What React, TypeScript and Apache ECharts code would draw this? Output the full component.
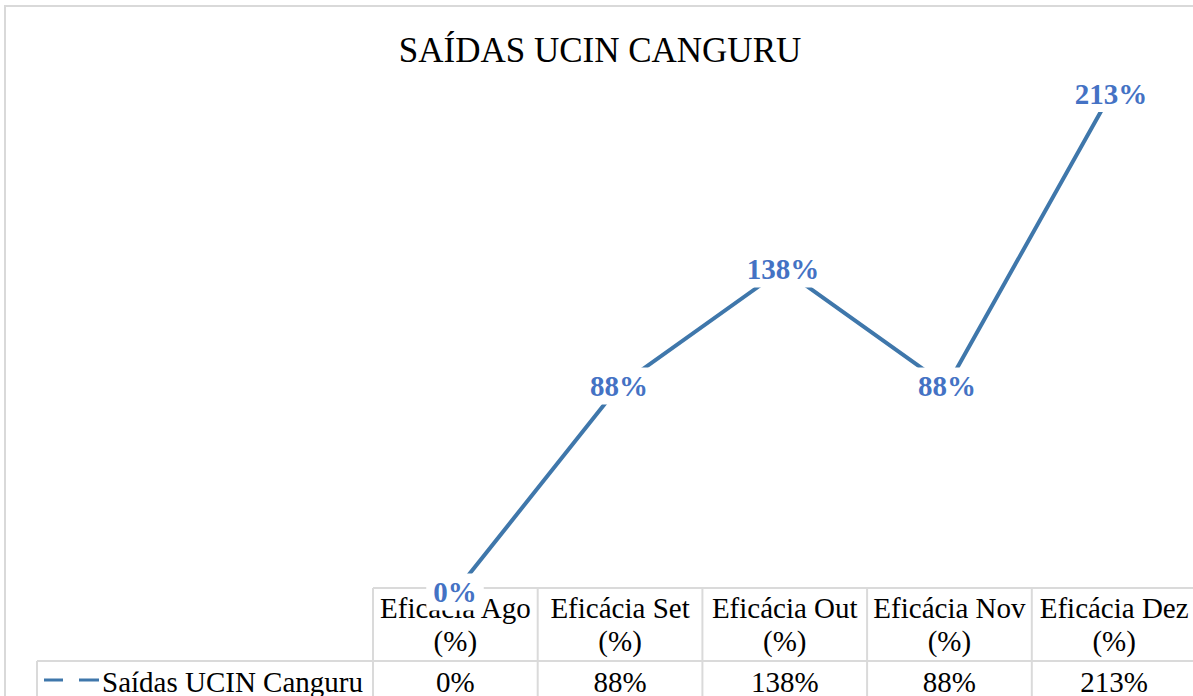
import React, { useEffect, useRef } from "react";
import * as echarts from "echarts";

const title = "SAÍDAS UCIN CANGURU";
const seriesName = "Saídas UCIN Canguru";
const categories = ["Eficácia Ago", "Eficácia Set", "Eficácia Out", "Eficácia Nov", "Eficácia Dez"];
const categorySuffix = "(%)";
const values = [0, 88, 138, 88, 213];

const FONT = "'Liberation Serif', 'Times New Roman', serif";
const LINE_COLOR = "#3F77AB";
const LABEL_COLOR = "#4472C4";
const GRID_COLOR = "#DADADA";

export default function App() {
  const ref = useRef<HTMLDivElement>(null);

  useEffect(() => {
    if (!ref.current) return;
    const chart = echarts.init(ref.current, undefined, { renderer: "svg" });

    const gridLeft = 373;
    const colW = 164.7;
    const gridTop = 7;
    const gridHeight = 585;
    const tableTop = 588;
    const rowLine = 661;
    const legendLeft = 37;
    const W = 1193;
    const H = 696;

    const graphics: any[] = [];
    // chart border
    graphics.push({
      type: "rect",
      z: -10,
      shape: { x: 5, y: 6, width: 1220, height: 720 },
      style: { fill: "none", stroke: "#D9D9D9", lineWidth: 2 },
      silent: true,
    });
    // table horizontal lines
    graphics.push({
      type: "line",
      z: -5,
      shape: { x1: gridLeft, y1: tableTop, x2: W, y2: tableTop },
      style: { stroke: GRID_COLOR, lineWidth: 2 },
    });
    graphics.push({
      type: "line",
      z: -5,
      shape: { x1: legendLeft, y1: rowLine, x2: W, y2: rowLine },
      style: { stroke: GRID_COLOR, lineWidth: 2 },
    });
    graphics.push({
      type: "line",
      z: -5,
      shape: { x1: legendLeft, y1: rowLine, x2: legendLeft, y2: H },
      style: { stroke: GRID_COLOR, lineWidth: 2 },
    });
    for (let i = 0; i <= categories.length; i++) {
      const x = gridLeft + i * colW;
      graphics.push({
        type: "line",
        z: -5,
        shape: { x1: x, y1: tableTop, x2: x, y2: H },
        style: { stroke: GRID_COLOR, lineWidth: 2 },
      });
    }
    categories.forEach((c, i) => {
      const cx = gridLeft + (i + 0.5) * colW;
      graphics.push({
        type: "text",
        z: -4,
        x: cx,
        y: 608,
        style: { text: c, font: `29px ${FONT}`, fill: "#000", align: "center", verticalAlign: "middle" },
      });
      graphics.push({
        type: "text",
        z: -4,
        x: cx,
        y: 641,
        style: { text: categorySuffix, font: `29px ${FONT}`, fill: "#000", align: "center", verticalAlign: "middle" },
      });
      graphics.push({
        type: "text",
        z: -4,
        x: cx,
        y: 682,
        style: { text: `${values[i]}%`, font: `29px ${FONT}`, fill: "#000", align: "center", verticalAlign: "middle" },
      });
    });
    // legend key
    graphics.push({
      type: "line",
      shape: { x1: 44, y1: 680, x2: 63, y2: 680 },
      style: { stroke: LINE_COLOR, lineWidth: 3 },
    });
    graphics.push({
      type: "line",
      shape: { x1: 79, y1: 680, x2: 99, y2: 680 },
      style: { stroke: LINE_COLOR, lineWidth: 3 },
    });
    graphics.push({
      type: "text",
      x: 102,
      y: 682,
      style: { text: seriesName, font: `29px ${FONT}`, fill: "#000", align: "left", verticalAlign: "middle" },
    });

    chart.setOption({
      animation: false,
      backgroundColor: "#fff",
      title: {
        text: title,
        left: 595,
        top: 28,
        textAlign: "center",
        textStyle: { fontFamily: FONT, fontSize: 35, fontWeight: "normal", color: "#000" },
      },
      grid: { left: gridLeft, top: gridTop, width: colW * categories.length, height: gridHeight },
      xAxis: {
        type: "category",
        data: categories.map((c) => `${c} ${categorySuffix}`),
        show: false,
        boundaryGap: true,
      },
      yAxis: { type: "value", min: 0, max: 250, show: false },
      graphic: graphics,
      series: [
        {
          name: seriesName,
          type: "line",
          data: values,
          symbol: "circle",
          symbolSize: 1,
          showSymbol: true,
          itemStyle: { color: "rgba(0,0,0,0)" },
          lineStyle: { color: LINE_COLOR, width: 4 },
          clip: false,
          z: 5,
          label: {
            show: true,
            position: "inside",
            formatter: (p: any) => `${p.value}%`,
            fontFamily: FONT,
            fontSize: 29,
            fontWeight: "bold",
            color: LABEL_COLOR,
            backgroundColor: "#fff",
            padding: [4, 7],
          },
        },
      ],
    });

    return () => chart.dispose();
  }, []);

  return (
    <div
      ref={ref}
      style={{ position: "absolute", left: 0, top: 0, width: 1193, height: 696, background: "#fff" }}
    />
  );
}
